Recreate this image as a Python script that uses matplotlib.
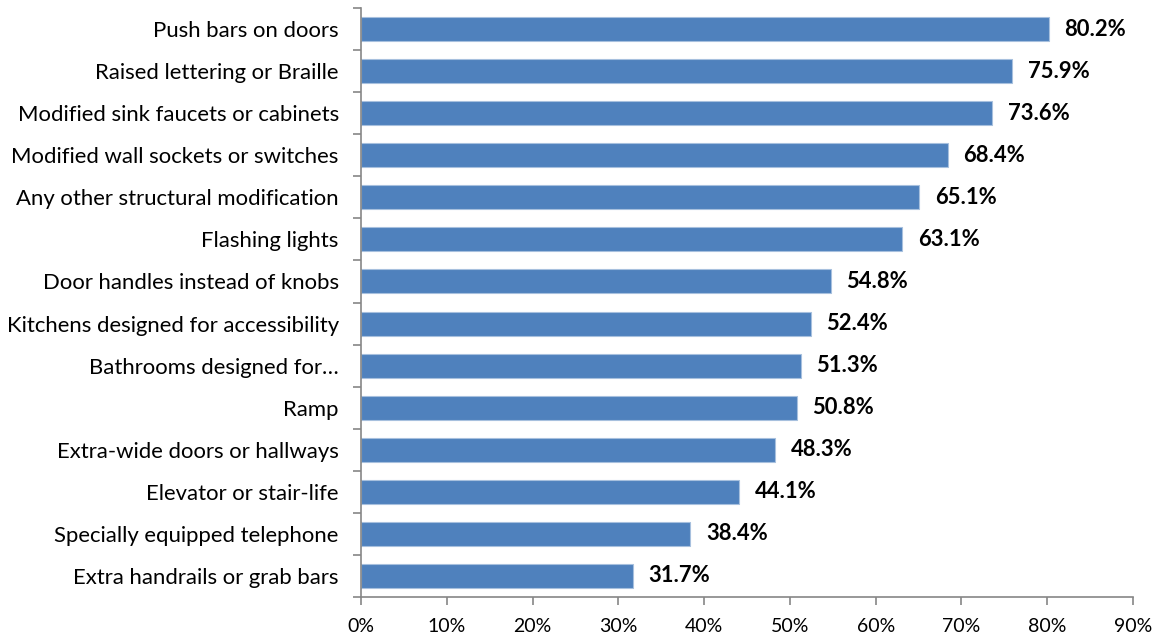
import matplotlib
matplotlib.use("Agg")
import matplotlib.pyplot as plt
from matplotlib.ticker import FixedLocator, FuncFormatter

categories = [
    "Push bars on doors",
    "Raised lettering or Braille",
    "Modified sink faucets or cabinets",
    "Modified wall sockets or switches",
    "Any other structural modification",
    "Flashing lights",
    "Door handles instead of knobs",
    "Kitchens designed for accessibility",
    "Bathrooms designed for\u2026",
    "Ramp",
    "Extra-wide doors or hallways",
    "Elevator or stair-life",
    "Specially equipped telephone",
    "Extra handrails or grab bars",
]
values = [80.2, 75.9, 73.6, 68.4, 65.1, 63.1, 54.8, 52.4, 51.3, 50.8, 48.3, 44.1, 38.4, 31.7]
x_ticks = [0, 10, 20, 30, 40, 50, 60, 70, 80, 90]

plt.rcParams["font.family"] = ["Lato", "DejaVu Sans"]

fig = plt.figure(figsize=(11.55, 6.37), dpi=100)
ax = fig.add_axes([0.3126, 0.0628, 0.981 - 0.3126, 0.9874 - 0.0628])

n = len(categories)
ypos = list(range(n))
ax.barh(ypos, values, height=0.57, color="#4F81BD", edgecolor="#A7C0DE", linewidth=0.8)

for y, v in zip(ypos, values):
    ax.text(v + 1.8, y, f"{v:.1f}%", va="center", ha="left",
            fontsize=15.8, fontweight="bold", color="black")

ax.set_xlim(0, 90)
ax.set_ylim(n - 0.5, -0.5)
ax.xaxis.set_major_locator(FixedLocator(x_ticks))
ax.xaxis.set_major_formatter(FuncFormatter(lambda v, p: f"{v:.0f}%"))

ax.set_yticks(ypos)
ax.set_yticklabels(categories)
ax.yaxis.set_minor_locator(FixedLocator([i - 0.5 for i in range(n + 1)]))
ax.tick_params(axis="y", which="major", length=0, pad=16, labelsize=15.9)
ax.tick_params(axis="y", which="minor", length=6, color="#868686", width=1.2, direction="out")
ax.tick_params(axis="x", which="major", length=6, color="#868686", width=1.2,
               direction="out", labelsize=14, pad=9)

for side in ["top", "right"]:
    ax.spines[side].set_visible(False)
ax.spines["left"].set_color("#868686")
ax.spines["left"].set_linewidth(1.2)
ax.spines["bottom"].set_color("#868686")
ax.spines["bottom"].set_linewidth(1.2)

fig.savefig("out.png", dpi=100, facecolor="white")
